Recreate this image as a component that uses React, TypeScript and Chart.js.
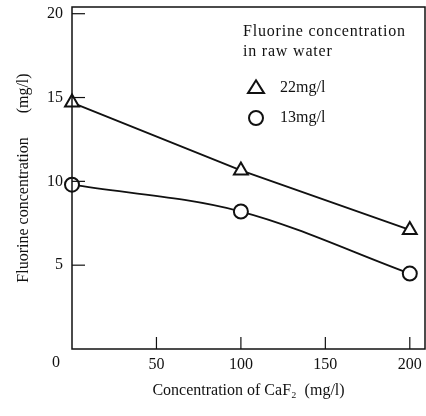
import React, { useEffect, useRef } from "react";
import { Chart, registerables } from "chart.js";

Chart.register(...registerables);

const caf2Doses = [0, 100, 200];
const raw22Values = [14.7, 10.65, 7.1];
const raw13Values = [9.8, 8.2, 4.5];
const xTicks = [0, 50, 100, 150, 200];
const yTicks = [0, 5, 10, 15, 20];
const seriesLabels = ["22mg/l", "13mg/l"];
const legendTitle = ["Fluorine concentration", "in raw water"];

const FONT = "'Liberation Serif', 'DejaVu Serif', serif";

function drawMarker(ctx: CanvasRenderingContext2D, style: string, x: number, y: number, r: number) {
  ctx.beginPath();
  if (style === "triangle") {
    const h = r * 1.6;
    ctx.moveTo(x, y - h * 0.6);
    ctx.lineTo(x + r, y + h * 0.4);
    ctx.lineTo(x - r, y + h * 0.4);
    ctx.closePath();
  } else {
    ctx.arc(x, y, r, 0, Math.PI * 2);
  }
  ctx.fill();
  ctx.stroke();
}

const framePlugin = {
  id: "frame",
  afterDraw(chart: any) {
    const { ctx, chartArea: a, scales } = chart;
    const xs = scales.x;
    const ys = scales.y;
    ctx.save();
    ctx.strokeStyle = "#111";
    ctx.lineWidth = 1.5;
    ctx.strokeRect(a.left, a.top, a.right - a.left, a.bottom - a.top);
    ctx.lineWidth = 1.2;
    xTicks.forEach((v) => {
      if (v === 0) return;
      const px = xs.getPixelForValue(v);
      ctx.beginPath();
      ctx.moveTo(px, a.bottom);
      ctx.lineTo(px, a.bottom - 12);
      ctx.stroke();
    });
    yTicks.forEach((v) => {
      if (v === 0) return;
      const py = ys.getPixelForValue(v);
      ctx.beginPath();
      ctx.moveTo(a.left, py);
      ctx.lineTo(a.left + 13, py);
      ctx.stroke();
    });
    // origin label
    ctx.fillStyle = "#111";
    ctx.font = `16px ${FONT}`;
    ctx.textAlign = "center";
    ctx.textBaseline = "middle";
    ctx.fillText("0", a.left - 16, a.bottom + 14);

    // legend
    ctx.textAlign = "left";
    (ctx as any).letterSpacing = "0.8px";
    ctx.fillText(legendTitle[0], 243, 32);
    ctx.fillText(legendTitle[1], 243, 52);
    (ctx as any).letterSpacing = "0px";
    chart.data.datasets.forEach((ds: any, i: number) => {
      const cy = 88 + i * 30;
      ctx.strokeStyle = "#111";
      ctx.fillStyle = "#fff";
      ctx.lineWidth = 2;
      drawMarker(ctx, ds.pointStyle, 256, cy, ds.pointRadius);
      ctx.fillStyle = "#111";
      ctx.fillText(ds.label, 280, cy);
    });
    ctx.restore();
  },
};

export default function App() {
  const ref = useRef<HTMLCanvasElement | null>(null);
  useEffect(() => {
    if (!ref.current) return;
    const chart = new Chart(ref.current, {
      type: "scatter",
      data: {
        datasets: [
          {
            label: seriesLabels[0],
            data: caf2Doses.map((x, i) => ({ x, y: raw22Values[i] })),
            showLine: true,
            borderColor: "#111",
            borderWidth: 1.8,
            pointStyle: "triangle",
            pointRadius: 8,
            pointBackgroundColor: "#fff",
            pointBorderColor: "#111",
            pointBorderWidth: 2,
            tension: 0,
            clip: false,
          },
          {
            label: seriesLabels[1],
            data: caf2Doses.map((x, i) => ({ x, y: raw13Values[i] })),
            showLine: true,
            borderColor: "#111",
            borderWidth: 1.8,
            pointStyle: "circle",
            pointRadius: 7,
            pointBackgroundColor: "#fff",
            pointBorderColor: "#111",
            pointBorderWidth: 2,
            cubicInterpolationMode: "monotone",
            clip: false,
          },
        ] as any,
      },
      options: {
        animation: false,
        responsive: false,
        layout: { autoPadding: false, padding: { top: 7, right: 1, left: 0, bottom: 0 } },
        plugins: { legend: { display: false }, tooltip: { enabled: false } },
        scales: {
          x: {
            type: "linear",
            min: 0,
            max: 209,
            afterBuildTicks: (s: any) => {
              s.ticks = xTicks.map((v) => ({ value: v }));
            },
            afterFit: (s: any) => {
              s.height = 67;
              s.paddingLeft = 0;
              s.paddingRight = 0;
            },
            grid: { display: false, drawTicks: false },
            border: { display: false },
            ticks: {
              color: "#111",
              font: { family: FONT, size: 16 },
              padding: 6,
              maxRotation: 0,
              callback: (v: any) => (v === 0 ? "" : String(v)),
            },
            title: {
              display: true,
              text: "Concentration of CaF\u2082  (mg/l)",
              color: "#111",
              font: { family: FONT, size: 16 },
              padding: { top: 0, bottom: 16 },
            },
          },
          y: {
            type: "linear",
            min: 0,
            max: 20.4,
            afterBuildTicks: (s: any) => {
              s.ticks = yTicks.map((v) => ({ value: v }));
            },
            afterFit: (s: any) => {
              s.width = 72;
              s.paddingTop = 0;
              s.paddingBottom = 0;
            },
            grid: { display: false, drawTicks: false },
            border: { display: false },
            ticks: {
              color: "#111",
              font: { family: FONT, size: 16 },
              padding: 9,
              callback: (v: any) => (v === 0 ? "" : String(v)),
            },
            title: {
              display: true,
              text: "Fluorine concentration      (mg/l)",
              color: "#111",
              font: { family: FONT, size: 16 },
              padding: { top: 14, bottom: 0 },
            },
          },
        },
      },
      plugins: [framePlugin],
    });
    return () => chart.destroy();
  }, []);
  return (
    <div style={{ position: "absolute", left: 0, top: 0, width: 426, height: 416 }}>
      <canvas ref={ref} width={426} height={416} style={{ width: 426, height: 416 }} />
    </div>
  );
}
